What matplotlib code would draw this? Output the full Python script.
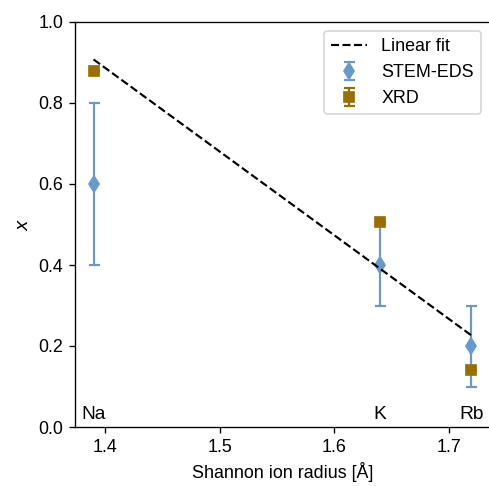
import numpy as np
import matplotlib.pyplot as plt

plt.rcParams['font.family'] = ['Liberation Sans', 'DejaVu Sans']
plt.rcParams['font.size'] = 10.7

ions = ["Na", "K", "Rb"]
radius = [1.39, 1.64, 1.72]
stem = [0.6, 0.4, 0.2]
stem_err = [0.2, 0.1, 0.1]
xrd = [0.88, 0.505, 0.14]

blue = "#6699cc"
brown = "#9a6e00"

fig = plt.figure(figsize=(489 / 120, 486 / 120), dpi=120)
ax = fig.add_axes([75 / 489, 59 / 486, 415 / 489, 405 / 486])

ax.errorbar(radius, stem, yerr=stem_err, fmt="d", color=blue, ms=6.5,
            capsize=3.3, elinewidth=1.3, capthick=1.3, label="STEM-EDS")
ax.errorbar(radius, xrd, yerr=[0, 0, 0], fmt="s", color=brown, ms=6.5,
            capsize=3.3, elinewidth=1.3, capthick=1.3, label="XRD")

# linear fit of the XRD values, drawn over the markers
p = np.polyfit(radius, xrd, 1)
xf = np.array([radius[0], radius[-1]])
ax.plot(xf, np.polyval(p, xf), "k--", lw=1.3, zorder=3, label="Linear fit")

for name, r in zip(ions, radius):
    ax.text(r, 0.02, name, ha="center", va="baseline", fontsize=11.5)

ax.set_xlim(1.3738, 1.7362)
ax.set_ylim(0, 1)
ax.set_xticks([1.4, 1.5, 1.6, 1.7])
ax.set_yticks([0, 0.2, 0.4, 0.6, 0.8, 1.0])
ax.set_xlabel("Shannon ion radius [Å]")
ax.set_ylabel("$x$")
ax.legend(loc="upper right")

fig.savefig("out.png", dpi=120)
